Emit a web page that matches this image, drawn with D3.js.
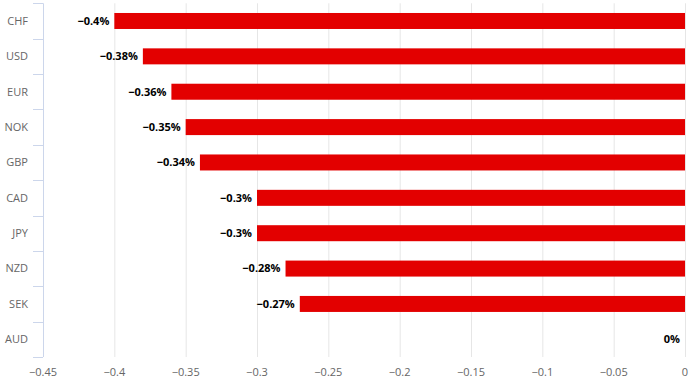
<!DOCTYPE html>
<html><head><meta charset="utf-8">
<script src="https://cdn.jsdelivr.net/npm/d3@7"></script>
<style>body{margin:0;background:#fff}svg{display:block}text{font-family:"Open Sans","DejaVu Sans",sans-serif}</style>
</head><body><svg id="c" width="696" height="391"></svg>
<script>
const categories = ["CHF","USD","EUR","NOK","GBP","CAD","JPY","NZD","SEK","AUD"];
const values = [-0.4,-0.38,-0.36,-0.35,-0.34,-0.3,-0.3,-0.28,-0.27,0];
const xTicks = [-0.45,-0.4,-0.35,-0.3,-0.25,-0.2,-0.15,-0.1,-0.05,0];

const svg = d3.select("#c");
const m = {left:43, right:685, top:3.3, bottom:357};
const x = d3.scaleLinear().domain([-0.45,0]).range([m.left,m.right]);
const y = d3.scaleBand().domain(categories).range([m.top,m.bottom]).paddingInner(0).paddingOuter(0);
const fmt = v => (v<0?"\u2212":"") + String(Math.abs(v));

// gridlines
svg.append("g").selectAll("line").data(xTicks.slice(1)).join("line")
  .attr("x1",d=>x(d)+0.5).attr("x2",d=>x(d)+0.5)
  .attr("y1",m.top).attr("y2",m.bottom)
  .attr("stroke","#e6e6e6").attr("stroke-width",1);

// y axis line and ticks
const ya = svg.append("g");
ya.append("line").attr("x1",m.left+0.5).attr("x2",m.left+0.5).attr("y1",m.top).attr("y2",m.bottom)
  .attr("stroke","#ccd6eb");
const bounds = categories.map(c=>y(c)).concat([m.bottom]);
ya.selectAll("line.t").data(bounds).join("line").attr("class","t")
  .attr("x1",m.left-10).attr("x2",m.left)
  .attr("y1",d=>Math.round(d)+0.5).attr("y2",d=>Math.round(d)+0.5)
  .attr("stroke","#ccd6eb");
ya.selectAll("text").data(categories).join("text")
  .attr("x",m.left-15).attr("y",d=>y(d)+y.bandwidth()/2)
  .attr("dy","0.35em").attr("text-anchor","end")
  .attr("font-size",11).attr("fill","#666").text(d=>d);

// x axis labels
svg.append("g").selectAll("text").data(xTicks).join("text")
  .attr("x",d=>x(d)).attr("y",376)
  .attr("text-anchor","middle").attr("font-size",11).attr("fill","#666")
  .text(fmt);

// bars
const bh = 16;
svg.append("g").selectAll("rect").data(categories).join("rect")
  .attr("x",(d,i)=>x(values[i])).attr("width",(d,i)=>x(0)-x(values[i]))
  .attr("y",d=>y(d)+y.bandwidth()/2-bh/2).attr("height",bh)
  .attr("fill","#e30000");

// data labels
svg.append("g").selectAll("text").data(categories).join("text")
  .attr("x",(d,i)=>x(values[i])-5).attr("y",d=>y(d)+y.bandwidth()/2)
  .attr("dy","0.35em").attr("text-anchor","end")
  .attr("font-size",11).attr("font-weight","bold").attr("fill","#000")
  .text((d,i)=>fmt(values[i])+"%");
</script></body></html>
